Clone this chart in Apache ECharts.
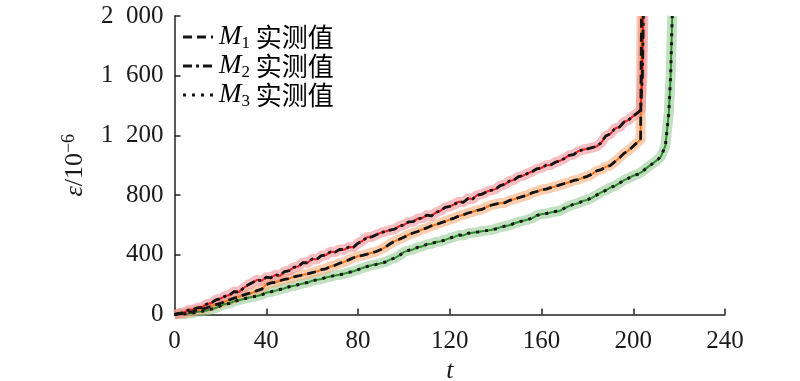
<!DOCTYPE html>
<html><head><meta charset="utf-8">
<script src="https://cdn.jsdelivr.net/npm/echarts@6/dist/echarts.min.js"></script>
<style>html,body{margin:0;padding:0;background:#fff}#c{width:800px;height:381px}</style>
</head><body><div id="c"></div>
<script>
// sample times (t)
const tGrid = [0,2,4,6,8,10,12,14,16,18,20,22,24,26,28,30,32,34,36,38,40,42,44,46,48,50,52,54,56,58,
60,62,64,66,68,70,72,74,76,78,80,82,84,86,88,90,92,94,96,98,100,102,104,106,108,110,112,114,116,118,
120,122,124,126,128,130,132,134,136,138,140,142,144,146,148,150,152,154,156,158,160,162,164,166,168,170,
172,174,176,178,180,182,184,186,188,190,192,194,196,198,200,202,204,206,208,210,212,214];
const xTicks = [0,40,80,120,160,200,240];
const yTicks = [0,400,800,1200,1600,2000];

// M2 (red, dash-dot)
const m2Vals = [0,8,12,30,33,45,48,70,76,98,
106,122,131,154,150,176,198,214,232,226,
250,246,266,260,288,294,316,322,348,346,
372,370,394,398,420,418,436,434,452,450,
478,494,518,520,534,548,556,566,572,592,
600,620,622,642,646,666,660,684,696,718,
724,738,756,752,778,774,800,806,822,832,
840,864,872,894,902,924,930,946,958,976,
982,1000,1002,1020,1030,1046,1066,1072,1094,1104,
1110,1118,1126,1150,1196,1210,1246,1256,1290,1304,
1330,1352];
const m2TailT = [203.2,204,204.4];
const m2TailV = [1370,1600,2000];

// M1 (orange, dashed)
const m1Vals = [0,5,8,15,20,30,34,44,55,66,
75,86,98,110,118,130,140,146,160,170,
200,212,216,226,236,240,252,258,266,272,
280,288,300,306,322,330,344,352,366,380,
390,396,404,414,422,436,452,474,492,504,
518,534,546,556,570,580,594,602,614,624,
636,646,660,668,680,688,698,704,720,732,
740,746,748,764,772,782,792,800,816,824,
836,840,850,858,868,878,886,898,904,916,
926,940,962,970,990,998,1024,1050,1080,1100,
1128,1156];
const m1TailT = [203.2,203.6];
const m1TailV = [1170,2000];

// M3 (green, dotted)
const m3Vals = [0,2,4,6,10,18,22,26,36,44,
58,70,74,88,96,104,112,118,124,132,
146,152,160,168,176,186,192,200,208,214,
226,232,238,248,254,262,266,274,282,290,
300,312,322,330,336,344,352,368,378,396,
418,430,436,450,456,470,474,486,490,500,
512,520,532,530,544,548,552,558,562,566,
574,584,592,598,610,620,628,636,646,664,
672,676,684,690,694,712,726,738,746,760,
768,782,800,818,832,850,862,880,900,914,
930,940,958,984,1006,1030,1056,1130];
const m3TailT = [215.5,216.3,217];
const m3TailV = [1350,1600,2000];

function pts(vals, tailT, tailV){
  const out = vals.map((v,i)=>[tGrid[i], v]);
  tailT.forEach((t,i)=>out.push([t, tailV[i]]));
  return out;
}
const d2 = pts(m2Vals, m2TailT, m2TailV);
const d1 = pts(m1Vals, m1TailT, m1TailV);
const d3 = pts(m3Vals, m3TailT, m3TailV);

const serif = 'Liberation Serif';
const cjk = 'Noto Sans CJK SC';
const ink = '#1a1a1a';
const dashM1 = [9,5], dashM2 = [9,4,3,4], dashM3 = [3,6];

function band(name, data, color){
  return {name, type:'line', data, symbol:'none', silent:true, z:1,
    lineStyle:{color, width:10, opacity:0.55, join:'round', cap:'butt'}};
}
function solid(name, data, color){
  return {name, type:'line', data, symbol:'none', silent:true, z:2,
    lineStyle:{color, width:2, join:'round'}};
}
function over(name, data, dash, w){
  return {name, type:'line', data, symbol:'none', silent:true, z:3,
    lineStyle:{color:'#141414', width:w, type:dash, join:'round'}};
}

const chart = echarts.init(document.getElementById('c'), null, {renderer:'canvas'});
const legendRich = {
  m:{fontFamily:serif, fontStyle:'italic', fontSize:27, color:ink, lineHeight:30},
  s:{fontFamily:serif, fontSize:17, color:ink, lineHeight:14, verticalAlign:'bottom'},
  c:{fontFamily:cjk, fontSize:26, color:ink, lineHeight:30}
};
function legendText(y, sub){
  return {type:'text', x:219, y:y, z:10, style:{text:'{m|M}{s|'+sub+'}{c| 实测值}', rich:legendRich, verticalAlign:'middle', align:'left'}};
}
function legendLine(y, dash, w){
  return {type:'line', z:10, shape:{x1:183,y1:y,x2:213,y2:y}, style:{stroke:'#141414', lineWidth:w, lineDash:dash}};
}

chart.setOption({
  animation:false,
  backgroundColor:'#fff',
  grid:{left:174.5, right:75, top:16, bottom:66.5, containLabel:false, outerBoundsMode:'none'},
  xAxis:{type:'value', min:xTicks[0], max:xTicks[xTicks.length-1], interval:40,
    name:'t', nameLocation:'middle', nameGap:41,
    nameTextStyle:{fontFamily:serif, fontStyle:'italic', fontSize:26, color:ink},
    axisLine:{show:true, onZero:false, lineStyle:{color:'#222', width:1.5}},
    axisTick:{show:true, inside:true, length:6, lineStyle:{color:'#222', width:1.5}},
    axisLabel:{fontFamily:serif, fontSize:25, color:ink, margin:14},
    splitLine:{show:false}},
  yAxis:{type:'value', min:yTicks[0], max:yTicks[yTicks.length-1], interval:400,
    name:'{e|ε}/10{sup|−6}', nameLocation:'middle', nameGap:73, nameRotate:90,
    nameTextStyle:{fontFamily:serif, fontSize:26, color:ink, lineHeight:30,
      rich:{e:{fontFamily:serif, fontStyle:'italic', fontSize:26, color:ink, lineHeight:30},
            sup:{fontFamily:serif, fontSize:18, color:ink, lineHeight:14, verticalAlign:'top'}}},
    axisLine:{show:true, lineStyle:{color:'#222', width:1.5}},
    axisTick:{show:true, inside:true, length:6, lineStyle:{color:'#222', width:1.5}},
    axisLabel:{fontFamily:serif, fontSize:25, color:ink, margin:11,
      formatter:v=> v>=1000 ? Math.floor(v/1000)+'  '+String(v%1000).padStart(3,'0') : String(v)},
    splitLine:{show:false}},
  graphic:[
    legendLine(37,dashM1,2.8), legendText(37,'1'),
    legendLine(66,dashM2,2.8), legendText(66,'2'),
    legendLine(95,dashM3,3), legendText(95,'3')
  ],
  series:[
    band('b3', d3, '#8cc68a'),
    band('b1', d1, '#f7a56e'),
    band('b2', d2, '#f08890'),
    solid('l3', d3, '#2e8b2e'),
    solid('l1', d1, '#f07820'),
    solid('l2', d2, '#e8202a'),
    over('M3 实测值', d3, dashM3, 3),
    over('M1 实测值', d1, dashM1, 2.8),
    over('M2 实测值', d2, dashM2, 2.8)
  ]
});
</script></body></html>
